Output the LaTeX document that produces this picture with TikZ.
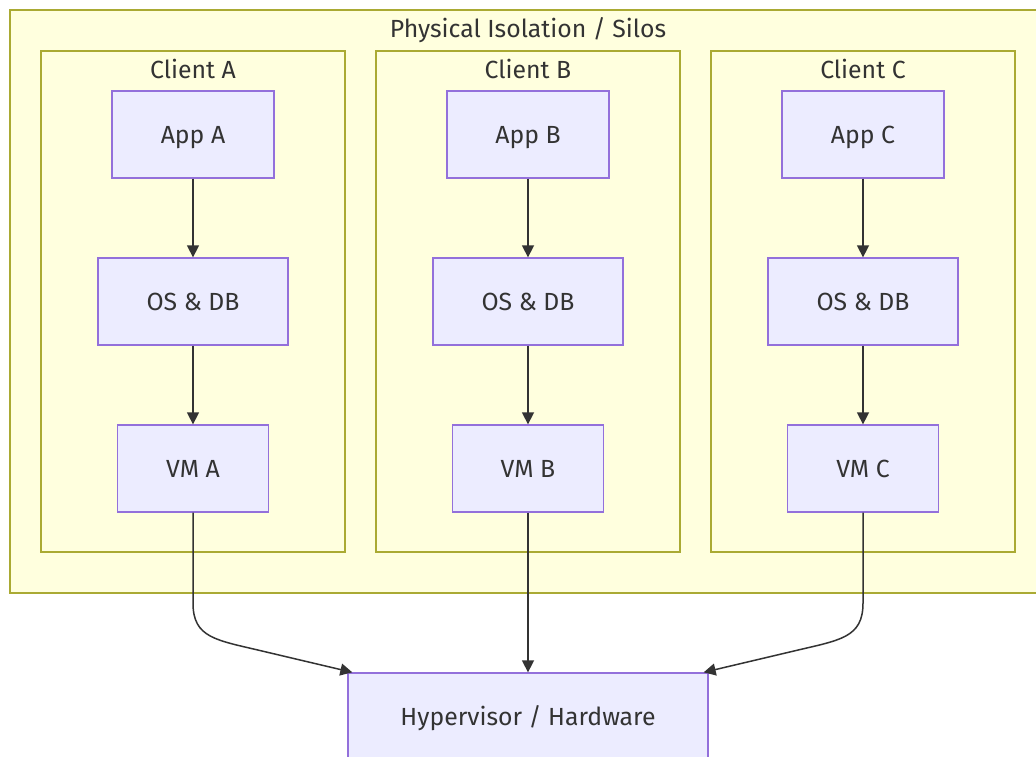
\documentclass[tikz,border=0pt]{standalone}
\usepackage{fontspec}
\setmainfont{Fira Sans}
\usetikzlibrary{arrows.meta}

\definecolor{clusterfill}{HTML}{FFFFDE}
\definecolor{clusterline}{HTML}{AAAA33}
\definecolor{nodefill}{HTML}{ECECFF}
\definecolor{nodeline}{HTML}{9370DB}
\definecolor{ink}{HTML}{333333}

\newcommand\labelfont{\fontsize{24.8}{28}\selectfont}

\tikzset{
  cluster/.style={draw=clusterline, fill=clusterfill, line width=1.3pt},
  caption/.style={text=ink, font=\labelfont, inner sep=0pt,
    text height=17.4pt, text depth=0pt},
  layerbox/.style={caption, draw=nodeline, fill=nodefill, line width=1.3pt,
    minimum height=87pt},
  link/.style={draw=ink, line width=1.5pt,
    -{Triangle[length=12pt,width=12pt]}},
}

\begin{document}
\begin{tikzpicture}[x=1pt, y=-1pt]
  \clip (0,0) rectangle (1036,757);
  \fill[white] (0,0) rectangle (1036,757);

  % outer group
  \draw[cluster] (10,10) rectangle (1046,593);
  \node[caption] (silos) at (528,29) {Physical Isolation / Silos};

  % one column per client
  \foreach \c/\x/\l in {a/193/A, b/528/B, c/863/C} {
    \draw[cluster] (\x-152,51) rectangle (\x+152,552);
    \node[caption] (client\c) at (\x,69.5) {Client \l};
    \node[layerbox, minimum width=162pt] (app\c) at (\x,134.5) {App \l};
    \node[layerbox, minimum width=190pt] (os\c) at (\x,301.5) {OS \& DB};
    \node[layerbox, minimum width=151pt] (vm\c) at (\x,468.5) {VM \l};
    \draw[link] (app\c) -- (os\c);
    \draw[link] (os\c) -- (vm\c);
  }

  \node[layerbox, minimum width=360pt] (hyp) at (528,716.5) {Hypervisor / Hardware};

  % connectors to the shared host
  \draw[link] (vma.south) -- (193,603)
    .. controls (193,638) and (216,640) .. (262,651) -- ([xshift=5pt]hyp.north west);
  \draw[link] (vmb) -- (hyp);
  \draw[link] (vmc.south) -- (863,603)
    .. controls (863,638) and (840,640) .. (794,651) -- ([xshift=-5pt]hyp.north east);
\end{tikzpicture}
\end{document}
